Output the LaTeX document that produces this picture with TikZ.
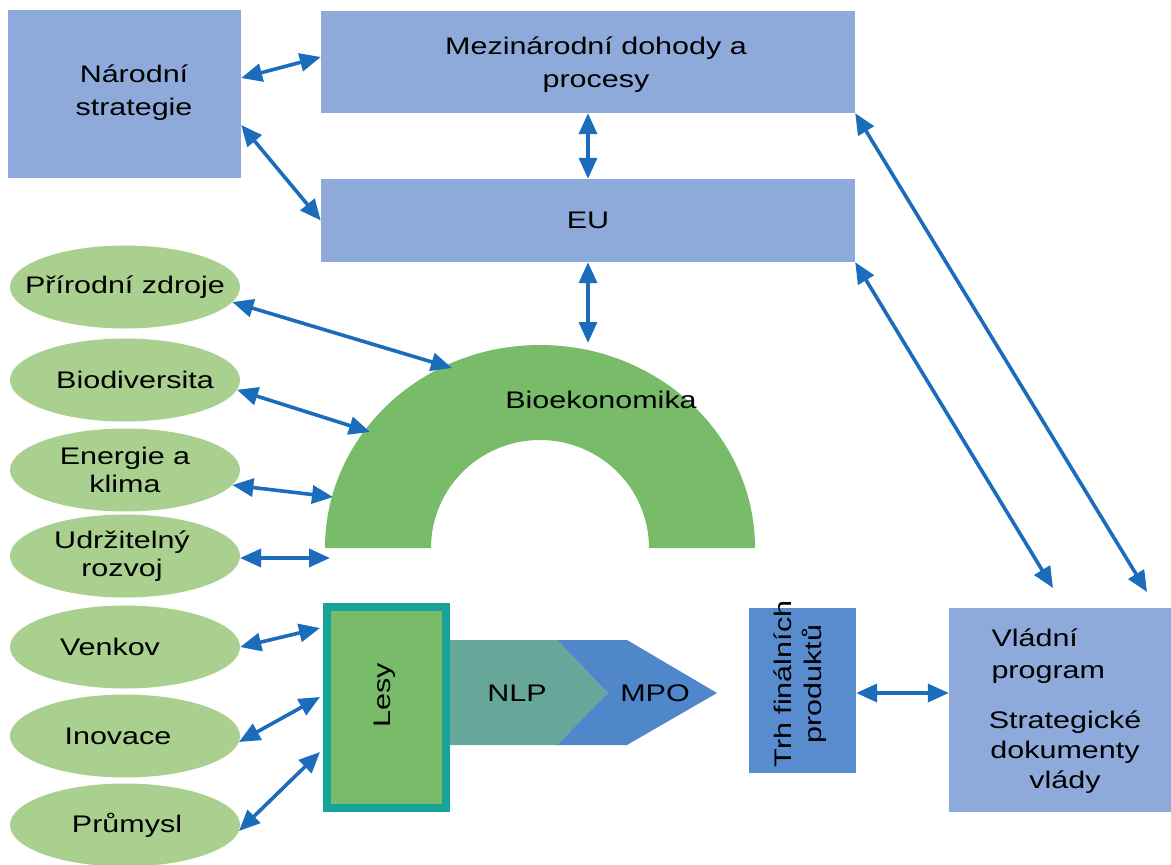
\documentclass[tikz,border=0pt]{standalone}
\usepackage{fontspec}
\setmainfont{Liberation Sans}[FakeStretch=1.27]
\usetikzlibrary{arrows.meta,positioning,calc,shapes.geometric}
\definecolor{BoxBlue}{RGB}{142,170,219}
\definecolor{TrhBlue}{RGB}{88,140,207}
\definecolor{ArrBlue}{RGB}{28,108,188}
\definecolor{LeafGreen}{RGB}{169,208,142}
\definecolor{BioGreen}{RGB}{120,188,106}
\definecolor{LesTeal}{RGB}{22,164,152}
\definecolor{NLPc}{RGB}{103,167,154}
\definecolor{MPOc}{RGB}{80,135,203}
\tikzset{
  box/.style={rectangle,fill=BoxBlue,inner sep=0pt,align=center,
              font=\fontsize{24}{33}\selectfont},
  leaf/.style={ellipse,fill=LeafGreen,minimum width=230pt,minimum height=83pt,
               inner sep=0pt},
  link/.style={{Triangle[length=21pt,width=18pt]}-{Triangle[length=21pt,width=18pt]},
               line width=3.6pt,ArrBlue},
}

\begin{document}
\begin{tikzpicture}[x=1pt,y=-1pt,font=\fontsize{24}{28}\selectfont]
  \useasboundingbox (0,0) rectangle (1171,865);

  % top boxes
  \node[box,minimum width=233pt,minimum height=168pt] (nar) at (124.5,94) {};
  \node[align=center,font=\fontsize{24}{33}\selectfont] (nar-t) at (134,93) {Národní\\strategie};
  \node[box,minimum width=534pt,minimum height=102pt] (mez) at (588,62) {};
  \node[align=center,font=\fontsize{24}{33}\selectfont] (mez-t) at (596,65) {Mezinárodní dohody a\\procesy};
  \node[box,minimum width=534pt,minimum height=83pt] (eu) at (588,220.5) {EU};

  % bioekonomika arch
  \fill[BioGreen] (325,548) arc[start angle=180,end angle=0,x radius=215pt,y radius=203pt]
    -- (649,548) arc[start angle=0,end angle=180,x radius=109pt,y radius=108pt] -- cycle;
  \node (bio) at (601,400) {Bioekonomika};
  \coordinate (bio-top) at (588,343);
  \coordinate (bio-a) at (452,368);
  \coordinate (bio-b) at (370,432);
  \coordinate (bio-c) at (333,497);
  \coordinate (bio-d) at (330,558);

  % left ellipses
  \foreach \i/\y/\dx/\t in {1/287/0/{Přírodní zdroje},2/380/10/Biodiversita,3/470/0/{Energie a\\klima},
                        4/556/-3/{Udržitelný\\rozvoj},5/647/-15/Venkov,6/736/-7/Inovace,7/825/2/Průmysl}
  {
    \node[leaf] (e\i) at (125,\y) {};
    \node[align=center] (t\i) at ([xshift=\dx pt]e\i.center) {\t};
  }

  % NLP / MPO chevrons
  \fill[NLPc] (446,640) -- (557,640) -- (608,693) -- (557,745) -- (446,745) -- cycle;
  \fill[MPOc] (557,640) -- (627,640) -- (717,693) -- (627,745) -- (557,745) -- (608,693) -- cycle;
  \node (nlp) at (517,693) {NLP};
  \node (mpo) at (655,693) {MPO};

  % lesy
  \node[rectangle,fill=BioGreen,draw=LesTeal,line width=8pt,minimum width=119pt,
        minimum height=201pt] (lesy) at (386.5,707.5) {};
  \node[rotate=90] at (385,695) {Lesy};
  \coordinate (les-a) at (320,628);
  \coordinate (les-b) at (320,697);
  \coordinate (les-c) at (320,752);

  % right side
  \node[rectangle,fill=TrhBlue,minimum width=107pt,minimum height=165pt] (trh) at (802.5,690.5) {};
  \node[rotate=90,align=center,font=\fontsize{24}{30}\selectfont] at (800,684) {Trh finálních\\produktů};
  \node[box,minimum width=222pt,minimum height=204pt] (vlada) at (1060,710) {};
  \node[align=left,anchor=west,font=\fontsize{24}{32}\selectfont] (vp) at (988,656) {Vládní\\program};
  \node[align=center,font=\fontsize{24}{30}\selectfont] (sd) at (1065,752) {Strategické\\dokumenty\\vlády};
  \coordinate (vl-a) at (1147,592);
  \coordinate (vl-b) at (1053,588);

  % connectors
  \draw[link] ([yshift=16pt]nar.east) -- ([yshift=5pt]mez.west);
  \draw[link] ([yshift=-31pt]nar.east) -- (eu.west);
  \draw[link] (mez.south) -- (eu.north);
  \draw[link] (eu.south) -- (bio-top);
  \foreach \i/\a/\c in {1/-8/bio-a,2/-5/bio-b,3/-8/bio-c,4/-1/bio-d,
                        5/0/les-a,6/-3/les-b,7/-3/les-c}
    \draw[link] (e\i.\a) -- (\c);
  \draw[link] (trh.east |- 0,693) -- (vlada.west |- 0,693);
  \draw[link] (mez.south east) -- (vl-a);
  \draw[link] (eu.south east) -- (vl-b);
\end{tikzpicture}
\end{document}
